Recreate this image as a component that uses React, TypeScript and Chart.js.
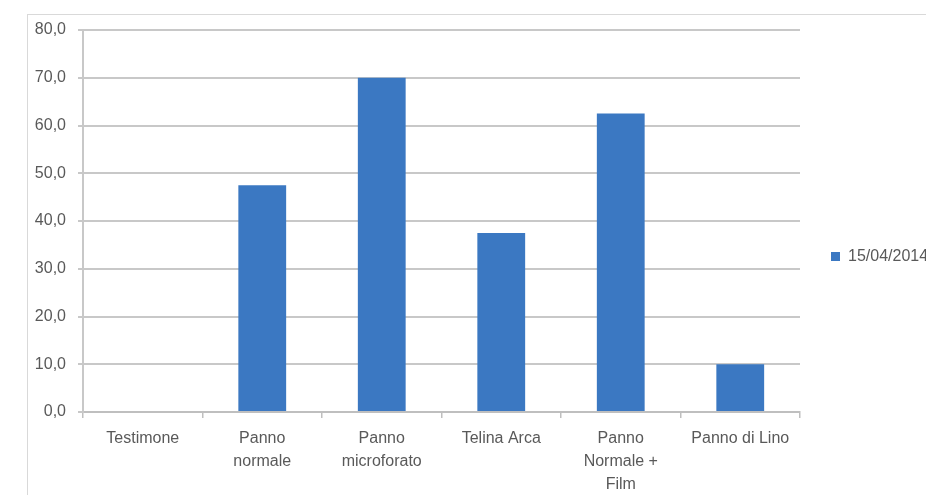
import React, { useEffect, useRef } from 'react';
import { Chart, registerables } from 'chart.js';

Chart.register(...registerables);

const categories: string[][] = [
  ['Testimone'],
  ['Panno', 'normale'],
  ['Panno', 'microforato'],
  ['Telina Arca'],
  ['Panno', 'Normale +', 'Film'],
  ['Panno di Lino'],
];
const seriesLabel = '15/04/2014';
const seriesValues = [0, 47.5, 70, 37.5, 62.5, 10];
const yMin = 0;
const yMax = 80;
const yStep = 10;

const FONT = '"Liberation Sans", Arial, sans-serif';
const TEXT = '#595959';
const GRID = '#c8c8c8';
const BAR = '#3b78c2';

const legendPlugin = {
  id: 'sideLegend',
  afterDraw(chart: any) {
    const { ctx, chartArea } = chart;
    const ds = chart.data.datasets[0];
    const x = chartArea.right + 31;
    const cy = (chartArea.top + chartArea.bottom) / 2 + 36;
    ctx.save();
    ctx.fillStyle = ds.backgroundColor;
    ctx.fillRect(x, cy - 5, 9, 9);
    ctx.fillStyle = TEXT;
    ctx.font = `16px ${FONT}`;
    ctx.textBaseline = 'middle';
    ctx.textAlign = 'left';
    ctx.fillText(ds.label, x + 17, cy);
    ctx.restore();
  },
};

export default function App() {
  const ref = useRef<HTMLCanvasElement>(null);

  useEffect(() => {
    if (!ref.current) return;
    const chart = new Chart(ref.current, {
      type: 'bar',
      data: {
        labels: categories,
        datasets: [
          {
            label: seriesLabel,
            data: seriesValues,
            backgroundColor: BAR,
            barPercentage: 0.4,
            categoryPercentage: 1,
          },
        ],
      },
      options: {
        responsive: false,
        animation: false,
        layout: { padding: { left: 0, right: 126, top: 30, bottom: 0 } },
        plugins: { legend: { display: false }, tooltip: { enabled: false } },
        scales: {
          x: {
            grid: {
              display: true,
              drawOnChartArea: false,
              drawTicks: true,
              tickLength: 6,
              color: '#bfbfbf',
              lineWidth: 1.5,
              offset: true,
            },
            border: { display: true, color: '#bfbfbf', width: 2 },
            ticks: {
              color: TEXT,
              font: { family: FONT, size: 16, lineHeight: 1.45 },
              padding: 9,
              maxRotation: 0,
              autoSkip: false,
            },
            afterFit: (s: any) => {
              s.height = 83;
            },
          },
          y: {
            min: yMin,
            max: yMax,
            ticks: {
              stepSize: yStep,
              color: TEXT,
              font: { family: FONT, size: 16 },
              padding: 12,
              callback: (v: any) => Number(v).toFixed(1).replace('.', ','),
            },
            grid: { color: GRID, lineWidth: 2, tickLength: 5 },
            border: { display: true, color: GRID, width: 2 },
            afterFit: (s: any) => {
              s.width = 83;
            },
          },
        },
      },
      plugins: [legendPlugin],
    });
    return () => chart.destroy();
  }, []);

  return (
    <div
      style={{
        position: 'absolute',
        left: 0,
        top: 0,
        width: 926,
        height: 495,
        overflow: 'hidden',
        background: '#fff',
      }}
    >
      <div
        style={{
          position: 'absolute',
          left: 27,
          top: 14,
          width: 1000,
          height: 1000,
          border: '1px solid #d9d9d9',
        }}
      />
      <canvas
        ref={ref}
        width={926}
        height={495}
        style={{ position: 'absolute', left: 0, top: 0, width: 926, height: 495 }}
      />
    </div>
  );
}
